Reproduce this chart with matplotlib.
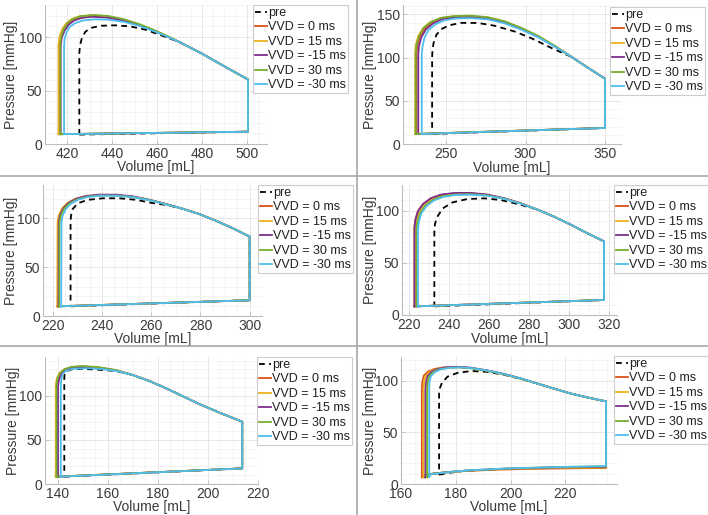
import matplotlib
matplotlib.use('Agg')
import matplotlib.pyplot as plt
from matplotlib.lines import Line2D
from matplotlib.ticker import AutoMinorLocator

plt.rcParams['font.family'] = ['Liberation Sans', 'DejaVu Sans']

# ---------------- data ----------------
labels = ['pre', 'VVD = 0 ms', 'VVD = 15 ms', 'VVD = -15 ms', 'VVD = 30 ms', 'VVD = -30 ms']
colors = ['black', '#D95319', '#EDB120', '#7E2F8E', '#77AC30', '#4DBEEE']

# Panel 1 (order: pre, 0, 15, -15, 30, -30)
p1_esv = [425.3, 416.5, 416.0, 417.0, 416.8, 418.5]
p1_pmin = [8.8, 9.2, 9.2, 9.2, 9.2, 9.2]
p1_fill = [(500.5, 11.5)]
p1_tail = [(500.5, 60.4), (490, 72.6), (480, 84.5), (470, 95.3)]
p1_top = [
    [(462, 101.5), (455, 106.8), (448, 110.0), (441, 111.0), (435, 110.6), (430.5, 108.6), (428, 105), (426.5, 99.5), (425.6, 92), (425.3, 85)],
    [(464, 101.2), (458, 106.5), (452, 111.3), (445, 115.8), (438, 118.9), (431, 120.0), (426, 119.0), (422.5, 116.5), (420, 112.5), (418.2, 107), (417, 100), (416.5, 93)],
    [(464, 101.3), (458, 106.8), (452, 111.6), (445, 116.2), (438, 119.4), (431, 120.5), (425.5, 119.5), (422, 117), (419.5, 113), (417.7, 107.5), (416.5, 100.5), (416.0, 93)],
    [(464, 101.0), (458, 106.3), (452, 111.0), (445, 115.3), (438, 118.2), (431, 119.0), (426.5, 118), (423, 115.5), (420.5, 111.5), (418.7, 106), (417.5, 99.5), (417.0, 92)],
    [(464, 101.5), (458, 107.2), (452, 112.2), (445, 116.8), (438, 119.8), (432, 120.6), (426, 119.6), (422.5, 117), (420, 113), (418.3, 107.5), (417.2, 100.5), (416.8, 93)],
    [(464, 100.9), (458, 106.0), (452, 110.5), (445, 114.3), (438, 116.3), (432, 116.6), (427, 115.6), (423.5, 113), (421, 109.5), (419.5, 104), (418.7, 97.5), (418.5, 90)],
]

# Panel 2
p2_esv = [241.3, 231.5, 230.6, 232.6, 231.0, 234.8]
p2_pmin = [11.6, 11.6, 11.6, 11.6, 11.6, 11.6]
p2_fill = [(350, 18.6)]
p2_tail = [(350, 75.6), (339.5, 88), (329, 100.8)]
p2_top = [
    [(316.3, 111.2), (303.7, 122.5), (293.2, 130.3), (280.5, 137), (270, 140.2), (259.5, 140.3), (252, 137.5), (247, 133), (244, 126.5), (242.2, 117), (241.5, 108), (241.3, 100)],
    [(318.4, 113.2), (308, 124.5), (297.4, 133.6), (286.8, 141.2), (276.3, 145.9), (265.8, 147.6), (255.3, 147.4), (247, 145.3), (241, 140.5), (236.5, 133.5), (233.5, 124), (232, 114), (231.5, 104)],
    [(318.4, 113.4), (308, 124.8), (297.4, 134), (286.8, 141.7), (276.3, 146.4), (265.8, 148.1), (255.3, 147.9), (246.5, 145.8), (240, 141), (235.5, 134), (232.5, 124.5), (231, 114.5), (230.6, 104)],
    [(318.4, 113.0), (308, 124), (297.4, 133), (286.8, 140.5), (276.3, 145.2), (265.8, 147), (255.3, 146.8), (247.5, 144.6), (242, 139.8), (237.5, 133), (234.5, 123.5), (233, 113), (232.6, 103)],
    [(318.4, 113.8), (308, 125.2), (297.4, 134.5), (286.8, 142.2), (276.3, 146.9), (265.8, 148.6), (255.3, 148.2), (246.8, 146.1), (240.5, 141.3), (236, 134.5), (233, 125), (231.5, 115), (231.0, 105)],
    [(318.4, 112.8), (308, 123.6), (297.4, 132.4), (286.8, 139.8), (276.3, 144.3), (265.8, 145.8), (256, 145.4), (249, 143.2), (243.5, 138.8), (239, 132), (236.5, 123), (235.2, 112.5), (234.8, 103)],
]

# Panel 3
p3_esv = [227.2, 222.0, 221.8, 222.3, 222.6, 223.4]
p3_pmin = [9.9, 9.9, 9.9, 9.9, 9.9, 9.9]
p3_fill = [(300, 16.1)]
p3_tail = [(300, 81.2), (293.2, 89.7), (286.4, 97.3), (279.7, 104.1), (272.9, 109.6)]
p3_top = [
    [(266.1, 113.6), (260.7, 115.4), (253.9, 118.8), (247.1, 120.4), (240.3, 120.4), (234.2, 118.8), (230.2, 115.4), (228.1, 109.6), (227.4, 103), (227.2, 97)],
    [(266.1, 114.4), (259.3, 118.6), (252.5, 122), (245.8, 123.6), (239, 123.7), (233.4, 122.4), (229.2, 119.7), (226, 115.3), (223.9, 109.7), (222.6, 102.7), (222.1, 96)],
    [(266.1, 114.4), (259.3, 118.7), (252.5, 122.1), (245.8, 123.7), (239, 123.8), (233.2, 122.5), (229, 119.8), (225.8, 115.5), (223.7, 110), (222.4, 103), (221.9, 96)],
    [(266.1, 114.5), (259.3, 118.9), (252.5, 122.4), (245.8, 124.1), (239, 124.2), (233.6, 122.8), (229.5, 120), (226.3, 115.6), (224.2, 110), (222.9, 103), (222.4, 96)],
    [(266.1, 114.3), (259.3, 118.5), (252.5, 121.8), (245.8, 123.2), (239, 123.3), (233.8, 122), (229.8, 119.3), (226.6, 115), (224.5, 109.4), (223.2, 102.5), (222.7, 95.5)],
    [(266.1, 114.2), (259.3, 118.4), (252.5, 121.6), (245.8, 123), (239.5, 123.1), (234.3, 121.8), (230.4, 119.1), (227.3, 114.8), (225.2, 109.2), (223.9, 102.3), (223.5, 95)],
]

# Panel 4
p4_esv = [232.5, 222.5, 223.3, 222.6, 223.6, 224.3]
p4_pmin = [8.3, 8.3, 8.3, 8.3, 8.3, 8.3]
p4_fill = [(317.5, 14.4)]
p4_tail = [(317.5, 70.6), (309.2, 78.3), (300.8, 86.6), (292.5, 94.2), (284.2, 101)]
p4_top = [
    [(274.2, 106.4), (265.8, 110.2), (257.5, 111.8), (249.2, 111.2), (241.7, 108), (236.7, 102.2), (233.8, 93.6), (232.8, 87), (232.5, 82)],
    [(275.8, 107), (267.5, 111.8), (259.2, 115.2), (250.8, 116.7), (242.5, 116.6), (235.8, 115), (230.7, 111.6), (226.8, 106.2), (224.2, 99.3), (222.9, 91), (222.5, 84)],
    [(275.8, 107), (267.5, 111.7), (259.2, 115), (250.8, 116.3), (242.5, 116), (236.2, 114.3), (231.5, 110.8), (227.7, 105.3), (225.1, 98.5), (223.7, 90), (223.3, 83)],
    [(275.8, 107.1), (267.5, 111.9), (259.2, 115.4), (250.8, 117), (242.5, 117), (235.8, 115.4), (230.8, 112), (226.9, 106.5), (224.3, 99.5), (223.0, 91), (222.6, 84)],
    [(275.8, 106.8), (267.5, 111.5), (259.2, 114.6), (250.8, 115.8), (242.5, 115.5), (236.5, 113.8), (231.8, 110.3), (228, 105), (225.4, 98), (224, 89.5), (223.6, 82)],
    [(275.8, 106.7), (267.5, 111.3), (259.2, 114.3), (250.8, 115.3), (243, 115), (237, 113.2), (232.3, 109.8), (228.6, 104.5), (226, 97.5), (224.7, 89), (224.3, 82)],
]

# Panel 5
p5_esv = [142.7, 139.7, 139.3, 140.2, 139.6, 141.3]
p5_pmin = [8.3, 8.3, 8.3, 8.3, 8.3, 8.3]
p5_fill = [(213.7, 17.7)]
p5_tail = [(213.7, 70.6), (205, 80.5), (196.7, 90.5), (190, 99.5), (183.3, 108.5), (176.7, 116.8), (170, 123.6)]
p5_top = [
    [(163.3, 128.2), (155.3, 129.8), (149.3, 130.6), (145.3, 129.8), (143.3, 127.5), (142.8, 124), (142.7, 120)],
    [(163.3, 129.0), (156.7, 132), (150, 133.4), (145.5, 132.4), (142.8, 129.8), (141.1, 125.5), (140.1, 119.5), (139.7, 112)],
    [(163.3, 128.9), (156.7, 131.8), (150, 133.1), (145.3, 132.2), (142.5, 129.7), (140.7, 125.5), (139.7, 119.5), (139.3, 112)],
    [(163.3, 128.7), (156.7, 131.5), (150, 132.6), (145.8, 131.6), (143.2, 129), (141.5, 124.5), (140.6, 118.5), (140.2, 111)],
    [(163.3, 129.2), (156.7, 132.3), (150, 133.8), (145.5, 132.8), (142.8, 130.3), (141, 126), (140, 120), (139.6, 113)],
    [(163.3, 128.3), (157, 130.5), (151.3, 131.3), (146, 130.6), (143.3, 128.3), (142, 124.5), (141.5, 118), (141.3, 110)],
]

# Panel 6
p6_esv = [173.9, 167.6, 168.2, 168.9, 169.5, 170.3]
p6_pmin = [9.0, 6.5, 6.5, 6.5, 6.5, 7.0]
p6_fill = [
    [(178, 11), (183, 12.6), (197, 14.6), (216, 16), (234.8, 16.6)],
    [(168.5, 9.0), (175, 11), (182, 12.4), (195, 13.9), (215, 15), (234.8, 15.5)],
    [(169, 9.2), (176, 11.2), (183, 12.7), (196, 14.3), (215, 15.5), (234.8, 16.0)],
    [(169.6, 9.4), (177, 11.5), (184, 13), (197, 14.7), (216, 16), (234.8, 16.6)],
    [(170.2, 9.5), (177.5, 11.6), (185, 13.2), (198, 15), (217, 16.4), (234.8, 17.0)],
    [(171, 9.6), (178, 11.7), (185, 13.3), (200, 15.2), (220, 16.6), (234.8, 17.4)],
]
p6_tail = [(234.8, 80), (227.9, 83.9), (221.8, 87.7), (215.8, 92.4), (209.7, 97.3)]
p6_top = [
    [(203.6, 101.8), (197.6, 105.8), (191.5, 108.6), (185.5, 109.4), (180.6, 107.6), (177, 104), (175, 98.4), (174.2, 93), (173.9, 88)],
    [(203.6, 102.2), (197.6, 106.4), (191.5, 109.8), (185.5, 112.4), (180.6, 113.4), (175.8, 113.0), (172.1, 111.4), (169.7, 108.7), (168.3, 104.8), (167.8, 99), (167.6, 93)],
    [(203.6, 102.2), (197.6, 106.4), (191.5, 109.8), (185.5, 112.3), (180.6, 113.2), (176.2, 112.8), (172.6, 111.2), (170.3, 108.4), (168.9, 104.5), (168.4, 98.5), (168.2, 92)],
    [(203.6, 102.3), (197.6, 106.6), (191.5, 110), (185.5, 112.6), (181, 113.5), (176.6, 113), (173.2, 111.3), (171, 108.4), (169.6, 104.3), (169.1, 98), (168.9, 91)],
    [(203.6, 102.0), (197.6, 106.2), (191.5, 109.6), (185.5, 112), (181, 112.9), (177, 112.5), (173.7, 110.8), (171.5, 108), (170.2, 104), (169.7, 97.5), (169.5, 91)],
    [(203.6, 102.3), (197.6, 106.5), (191.5, 109.9), (186, 112.2), (181.8, 112.9), (177.5, 112.5), (174.4, 111), (172.3, 108.2), (170.9, 104.5), (170.4, 99), (170.3, 93)],
]

# axis limits / ticks
panels = [
    dict(esv=p1_esv, pmin=p1_pmin, fill=[p1_fill] * 6, tail=p1_tail, top=p1_top,
         xlim=(410, 509), ylim=(0, 130), xt=[420, 440, 460, 480, 500], yt=[0, 50, 100]),
    dict(esv=p2_esv, pmin=p2_pmin, fill=[p2_fill] * 6, tail=p2_tail, top=p2_top,
         xlim=(223, 360), ylim=(0, 161), xt=[250, 300, 350], yt=[0, 50, 100, 150]),
    dict(esv=p3_esv, pmin=p3_pmin, fill=[p3_fill] * 6, tail=p3_tail, top=p3_top,
         xlim=(216, 305), ylim=(0, 134), xt=[220, 240, 260, 280, 300], yt=[0, 50, 100]),
    dict(esv=p4_esv, pmin=p4_pmin, fill=[p4_fill] * 6, tail=p4_tail, top=p4_top,
         xlim=(216.3, 324), ylim=(0, 124.6), xt=[220, 240, 260, 280, 300, 320], yt=[0, 50, 100]),
    dict(esv=p5_esv, pmin=p5_pmin, fill=[p5_fill] * 6, tail=p5_tail, top=p5_top,
         xlim=(135, 220), ylim=(0, 144), xt=[140, 160, 180, 200, 220], yt=[0, 50, 100]),
    dict(esv=p6_esv, pmin=p6_pmin, fill=p6_fill, tail=p6_tail, top=p6_top,
         xlim=(160, 238.8), ylim=(0, 123), xt=[160, 180, 200, 220], yt=[0, 50, 100]),
]

# ---------------- layout (pixels) ----------------
W, H = 708, 515
# (left, right, top, bottom) of axes, legend (left, top), xlabel centre y, ylabel centre x
layout = [
    ((45, 267, 5, 144), (253, 5), 167, 11),
    ((403, 621, 5, 144), (610, 7), 168, 370),
    ((43, 262, 185, 316), (258, 185), 339, 11),
    ((402, 617, 185, 315), (614, 185), 339, 370),
    ((45, 258, 357, 484), (257, 357), 507, 13),
    ((401, 617, 357, 484), (614, 356), 507, 370),
]

fig = plt.figure(figsize=(W / 100, H / 100), dpi=100)

txt_col = '#3a3a3a'
for pan, (box, leg, xly, ylx) in zip(panels, layout):
    l, r, t, b = box
    ax = fig.add_axes([l / W, 1 - b / H, (r - l) / W, (b - t) / H])
    handles = []
    for i in range(6):
        e, pm = pan['esv'][i], pan['pmin'][i]
        pts = [(e, pm)] + pan['fill'][i] + pan['tail'] + pan['top'][i] + [(e, pm)]
        v = [q[0] for q in pts]
        p = [q[1] for q in pts]
        if i == 0:
            h, = ax.plot(v, p, color=colors[i], lw=1.3, ls=(0, (3.2, 2.4)), zorder=2)
        else:
            h, = ax.plot(v, p, color=colors[i], lw=1.3, zorder=2 + i)
        handles.append(h)
    ax.set_xlim(*pan['xlim'])
    ax.set_ylim(*pan['ylim'])
    ax.set_xticks(pan['xt'])
    ax.set_yticks(pan['yt'])
    ax.xaxis.set_minor_locator(AutoMinorLocator())
    ax.yaxis.set_minor_locator(AutoMinorLocator())
    ax.grid(True, which='major', color='#e3e3e3', lw=0.6)
    ax.grid(True, which='minor', color='#f1f1f1', lw=0.5)
    ax.set_axisbelow(True)
    for s in ['top', 'right']:
        ax.spines[s].set_visible(False)
    for s in ['left', 'bottom']:
        ax.spines[s].set_color('#bdbdbd')
        ax.spines[s].set_linewidth(0.8)
    ax.tick_params(which='major', direction='in', length=3, width=0.6, color='#bdbdbd',
                   labelsize=10, labelcolor=txt_col, pad=2)
    ax.tick_params(which='minor', length=0)
    ax.set_xlabel('Volume [mL]', fontsize=10, color=txt_col, va='center')
    ax.set_ylabel('Pressure [mmHg]', fontsize=10, color=txt_col, va='center')
    ax.xaxis.set_label_coords(0.5, (b - xly) / (b - t))
    ax.yaxis.set_label_coords((ylx - l) / (r - l), 0.5)
    lg = ax.legend(handles, labels, loc='upper left',
                   bbox_to_anchor=(leg[0] / W, 1 - leg[1] / H), bbox_transform=fig.transFigure,
                   fontsize=9, handlelength=1.0, handletextpad=0.05, labelspacing=0.2,
                   borderpad=0.15, borderaxespad=0, fancybox=False, framealpha=1,
                   edgecolor='#cccccc')
    lg.get_frame().set_linewidth(0.8)
    lg.set_zorder(20)
    for tx in lg.get_texts():
        tx.set_color('#202020')

# dividers
lc = '#a8a8a8'
fig.add_artist(Line2D([357 / W, 357 / W], [0, 1], color=lc, lw=1.2))
for yy in (176, 346):
    fig.add_artist(Line2D([0, 1], [1 - yy / H, 1 - yy / H], color=lc, lw=1.2))

fig.savefig('out.png', dpi=100)
